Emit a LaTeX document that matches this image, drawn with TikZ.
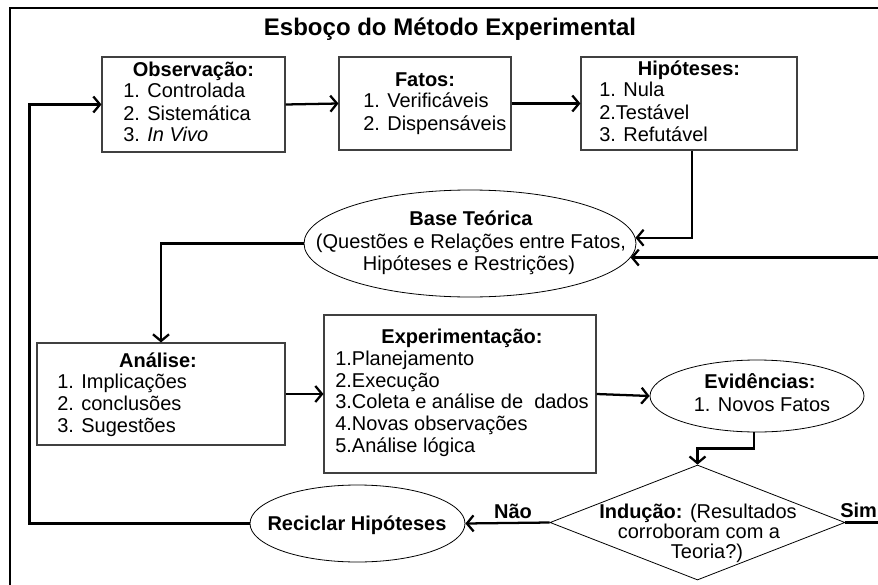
\documentclass[tikz,border=0pt]{standalone}
\usepackage{fontspec}
\setmainfont{Liberation Sans}
\usetikzlibrary{arrows.meta,shapes.geometric,calc}
\newcommand{\bodyfont}{\fontsize{15}{16}\selectfont}
\newcommand{\titlefont}{\fontsize{18}{19}\selectfont\bfseries}
\begin{document}
\begin{tikzpicture}[x=0.75pt,y=-0.75pt,
  box/.style={draw=black!75, line width=0.8pt, rectangle, inner sep=0pt},
  oval/.style={draw=black, line width=0.6pt, ellipse, inner sep=0pt},
  dia/.style={draw=black, line width=0.6pt, diamond, inner sep=0pt},
  txt/.style={inner sep=0pt, font=\bodyfont},
  hd/.style={inner sep=0pt, font=\bodyfont\bfseries, anchor=base},
  li/.style={inner sep=0pt, font=\bodyfont, anchor=base west},
  conn/.style={line width=1.7pt, -{Straight Barb[length=5pt,width=12pt]}}]
\useasboundingbox (0,0) rectangle (878,585);
\clip (0,0) rectangle (878,585);
\fill[white] (0,0) rectangle (878,585);
% outer frame
\draw[line width=1.5pt] (9.5,900) -- (9.5,8.5) -- (900,8.5);
% title
\node[hd, font=\titlefont] (title) at (450,36) {Esboço do Método Experimental};
% boxes
\node[box, minimum width=137.25pt, minimum height=71.25pt] (obs) at (193.5,104.5) {};
\node[box, minimum width=129pt, minimum height=69.75pt] (fat) at (425,103.5) {};
\node[box, minimum width=162pt, minimum height=69.75pt] (hip) at (689,103.5) {};
\node[oval, minimum width=249pt, minimum height=80.25pt] (base) at (470,243.5) {};
\node[box, minimum width=186pt, minimum height=76.5pt] (ana) at (161,394) {};
\node[box, minimum width=204pt, minimum height=118.5pt] (exp) at (460,394) {};
\node[oval, minimum width=160.5pt, minimum height=54pt] (evi) at (757,396) {};
\node[oval, minimum width=161.25pt, minimum height=57.75pt] (rec) at (357.5,523.5) {};
\node[dia, minimum width=221.25pt, minimum height=86.25pt] (ind) at (697.5,522.5) {};
% texts
\node[hd] (obsh) at (193.5,77) {Observação:};
\node[li] (obs1) at (123,98) {1. Controlada};
\node[li] (obs2) at (123,120) {2. Sistemática};
\node[li] (obs3) at (123,141) {3. \textit{In Vivo}};
\node[hd] (fath) at (425,87) {Fatos:};
\node[li] (fat1) at (363,108) {1. Verificáveis};
\node[li] (fat2) at (363,130) {2. Dispensáveis};
\node[hd] (hiph) at (689,76) {Hipóteses:};
\node[li] (hip1) at (599,97) {1. Nula};
\node[li] (hip2) at (599,119) {2.Testável};
\node[li] (hip3) at (599,141) {3. Refutável};
\node[hd] (baseh) at (471,225) {Base Teórica};
\node[txt, anchor=base] (base1) at (471,248) {(Questões e Relações entre Fatos,};
\node[txt, anchor=base] (base2) at (469,270) {Hipóteses e Restrições)};
\node[hd] (anah) at (158,367) {Análise:};
\node[li] (ana1) at (57,388) {1. Implicações};
\node[li] (ana2) at (57,410) {2. conclusões};
\node[li] (ana3) at (57,432) {3. Sugestões};
\node[hd] (exph) at (462,343) {Experimentação:};
\node[li] (exp1) at (335,365) {1.Planejamento};
\node[li] (exp2) at (335,387) {2.Execução};
\node[li] (exp3) at (335,408) {3.Coleta e análise de\ \ dados};
\node[li] (exp4) at (335,430) {4.Novas observações};
\node[li] (exp5) at (335,452) {5.Análise lógica};
\node[hd] (evih) at (760,388) {Evidências:};
\node[txt, anchor=base] (evi1) at (762,411) {1. Novos Fatos};
\node[hd] (rech) at (357,530) {Reciclar Hipóteses};
\node[txt, anchor=base] (ind1) at (698,518) {\textbf{Indução:} (Resultados};
\node[txt, anchor=base] (ind2) at (699,538.5) {corroboram com a};
\node[txt, anchor=base] (ind3) at (707,558.5) {Teoria?)};
\node[hd, anchor=base west] (sim) at (840,517) {Sim};
% connectors
\draw[conn] (obs.east) -- (fat.west);
\draw[conn] (fat.east) -- (hip.west);
\draw[conn] ([xshift=2.25pt]hip.south) |- (base.2.6);
\draw[conn] (base.west) -| (ana.north);
\draw[conn] (ana.east) -- (exp.west);
\draw[conn] (exp.east) -- (evi.west);
\draw[conn] ([xshift=-2.25pt]evi.south) -- ++(0,16) -| (ind.north);
\draw[conn] (ind.west) -- node[pos=0.435, above=2.25pt, inner sep=0pt, font=\bodyfont\bfseries] (nao) {Não} (rec.east);
\draw[conn] (ind.east) -- ++(60,0) |- (base.-5.6);
\draw[conn] (rec.west) -- ++(-220,0) |- (obs.west);
\end{tikzpicture}
\end{document}
